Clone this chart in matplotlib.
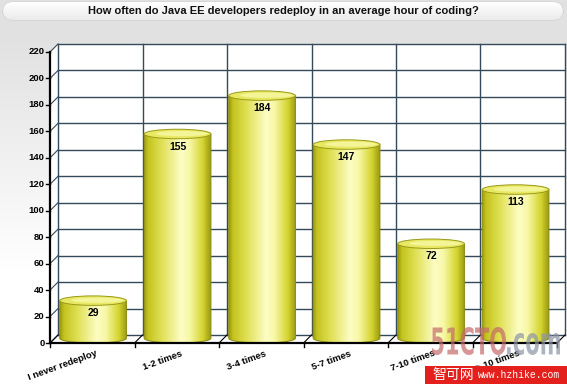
import numpy as np
import matplotlib
matplotlib.use("Agg")
import matplotlib.pyplot as plt
from matplotlib.patches import Rectangle, Ellipse, Polygon, PathPatch, FancyBboxPatch
from matplotlib.path import Path
from matplotlib.textpath import TextPath
from matplotlib.font_manager import FontProperties
from matplotlib.transforms import Affine2D
from matplotlib.colors import LinearSegmentedColormap

# ---- data ----
categories = ["I never redeploy", "1-2 times", "3-4 times", "5-7 times", "7-10 times", "> 10 times"]
values = [29, 155, 184, 147, 72, 113]
yticks = list(range(0, 221, 20))
title = "How often do Java EE developers redeploy in an average hour of coding?"

W, H = 567, 384
fig = plt.figure(figsize=(W / 100, H / 100), dpi=100)
fig.patch.set_facecolor("white")
plt.rcParams["font.family"] = ["Liberation Sans", "DejaVu Sans"]

# ---- background gradient ----
bg = fig.add_axes([0, 0, 1, 1], zorder=0)
bg.set_xlim(0, W); bg.set_ylim(H, 0); bg.axis("off")
yy = np.linspace(0, H, 200)[:, None]
xx = np.linspace(0, W, 300)[None, :]
g = 0.885 + 0.115 * np.clip((yy - 40) / 230, 0, 1) + 0.0 * xx
bg.imshow(np.dstack([g, g, g]), extent=[0, W, H, 0], aspect="auto", zorder=0)

# title box
tb = FancyBboxPatch((3, 2), 560, 18, boxstyle="round,pad=0,rounding_size=10",
                    facecolor="white", edgecolor="#cfcfcf", lw=0.8, zorder=1)
bg.add_patch(tb)
tg = np.linspace(1.0, 0.92, 50)[:, None] * np.ones((1, 10))
im = bg.imshow(np.dstack([tg, tg, tg]), extent=[3, 563, 20, 2], aspect="auto", zorder=1.5)
im.set_clip_path(tb)
bg.text(W / 2, 11, title, ha="center", va="center", fontsize=8, fontweight="bold",
        color="#111111", zorder=3)

# ---- main axes ----
L, B, PW, PH = 50, 41, 507, 291
ax = fig.add_axes([L / W, B / H, PW / W, PH / H], zorder=2)
ax.set_xlim(-0.5, len(categories) - 0.5)
ax.set_ylim(0, 220)
ax.axis("off")
ax.patch.set_alpha(0)

n = len(categories)
dx = n * 8 / PW
dy = 220 * 8 / PH
grid_c = "#34495a"

# walls
ax.add_patch(Polygon([(-0.5 + dx, dy), (n - 0.5 + dx, dy), (n - 0.5 + dx, 220 + dy), (-0.5 + dx, 220 + dy)],
                     closed=True, facecolor="white", edgecolor="none", clip_on=False, zorder=1))
ax.add_patch(Polygon([(-0.5, 0), (-0.5 + dx, dy), (-0.5 + dx, 220 + dy), (-0.5, 220)],
                     closed=True, facecolor="white", edgecolor="none", clip_on=False, zorder=1))
ax.add_patch(Polygon([(-0.5, 0), (n - 0.5, 0), (n - 0.5 + dx, dy), (-0.5 + dx, dy)],
                     closed=True, facecolor="white", edgecolor="none", clip_on=False, zorder=1))

for t in yticks:
    ax.plot([-0.5 + dx, n - 0.5 + dx], [t + dy, t + dy], color=grid_c, lw=1.0, clip_on=False, zorder=2)
    ax.plot([-0.5, -0.5 + dx], [t, t + dy], color=grid_c, lw=0.8, clip_on=False, zorder=2)
for i in range(n + 1):
    xb = -0.5 + i
    ax.plot([xb + dx, xb + dx], [dy, 220 + dy], color=grid_c, lw=1.0, clip_on=False, zorder=2)
    ax.plot([xb, xb + dx], [0, dy], color="black", lw=0.8, clip_on=False, zorder=2)

# ---- cylinders ----
cmap = LinearSegmentedColormap.from_list("cyl", [
    (0.0, "#9c9c10"), (0.06, "#c4c420"), (0.25, "#dede50"), (0.55, "#fdfdc4"),
    (0.68, "#f8f8a8"), (0.88, "#d4d430"), (1.0, "#9a9a10")])
bw = 0.79
eh = 220 * 9.5 / PH
grad = np.linspace(0, 1, 256)[None, :]
for i, v in enumerate(values):
    cx = i + dx * 0.1
    x0, x1 = cx - bw / 2, cx + bw / 2
    yb, yt = eh / 2, v + dy / 2
    th = np.linspace(0, np.pi, 40)
    arc = np.column_stack([cx + (bw / 2) * np.cos(th), yb - (eh / 2) * np.sin(th)])
    verts = [(x0, yt), (x1, yt), (x1, yb)] + [tuple(p) for p in arc] + [(x0, yb), (x0, yt)]
    path = Path(verts, closed=False)
    body = PathPatch(path, facecolor="none", edgecolor="#8a8a10", lw=0.7, zorder=4, clip_on=False)
    ax.add_patch(body)
    im = ax.imshow(grad, cmap=cmap, extent=[x0, x1, yb - eh / 2, yt], aspect="auto",
                   zorder=3, interpolation="bilinear")
    im.set_clip_path(body)
    ax.add_patch(Ellipse((cx, yt), bw, eh, facecolor="#e8e862", edgecolor="#9a9a18",
                         lw=0.7, zorder=5, clip_on=False))
    ax.add_patch(Ellipse((cx + 0.05, yt + eh * 0.04), bw * 0.78, eh * 0.55, facecolor="#f4f498",
                         edgecolor="none", zorder=5, clip_on=False))
    ax.text(cx, v - 6.5, str(v), ha="center", va="center", fontsize=7.5, fontweight="bold",
            color="black", zorder=6)

ax.set_xlim(-0.5, n - 0.5)
ax.set_ylim(0, 220)

# ---- front axes ----
ax.plot([-0.5, -0.5], [0, 220], color="black", lw=1.6, clip_on=False, zorder=7)
ax.plot([-0.5, n - 0.5], [0, 0], color="black", lw=1.6, clip_on=False, zorder=7)
tx = 4 * n / PW
ty = 220 * 4 / PH
for t in yticks:
    ax.plot([-0.5 - tx, -0.5], [t, t], color="black", lw=1.0, clip_on=False, zorder=7)
    ax.text(-0.5 - tx * 1.4, t, str(t), ha="right", va="center", fontsize=6.8,
            fontweight="bold", color="black", zorder=7)
for i in range(n + 1):
    ax.plot([-0.5 + i, -0.5 + i], [0, -ty], color="black", lw=1.0, clip_on=False, zorder=7)
for i, c in enumerate(categories):
    ax.text(i + 0.04, -220 * 6 / PH, c, ha="right", va="top", rotation=20, rotation_mode="anchor",
            fontsize=6.8, fontweight="bold", color="black", zorder=7)

# ---- watermarks ----
fp = FontProperties(family="DejaVu Sans", weight="bold")

def stretched_text(s, x_px, y_px, w_px, h_px, color, alpha):
    tp = TextPath((0, 0), s, size=10, prop=fp)
    ext = tp.get_extents()
    sx = w_px / ext.width
    sy = h_px / ext.height
    tr = (Affine2D().translate(-ext.x0, -ext.y0).scale(sx / W, sy / H)
          .translate(x_px / W, 1 - y_px / H) + fig.transFigure)
    fig.patches.append(PathPatch(tp, transform=tr, facecolor=color, edgecolor="none",
                                 alpha=alpha, zorder=10))

stretched_text("51CTO", 432, 355, 74, 28, "#c46a6a", 0.7)
stretched_text(".com", 507, 355, 53, 22, "#8c94a4", 0.7)

fig.patches.append(Rectangle((425 / W, 0), (W - 425) / W, 18 / H, transform=fig.transFigure,
                             facecolor="#e3201c", edgecolor="none", zorder=11))
fig.text(432 / W, 9 / H, "智可网", fontsize=10, color="white",
         family=["Noto Sans CJK SC", "DejaVu Sans"], ha="left", va="center", zorder=12)
fig.text(478 / W, 9 / H, "www.hzhike.com", fontsize=7, color="white",
         family=["Liberation Mono", "DejaVu Sans Mono"], ha="left", va="center", zorder=12)

fig.savefig("out.png", dpi=100)
